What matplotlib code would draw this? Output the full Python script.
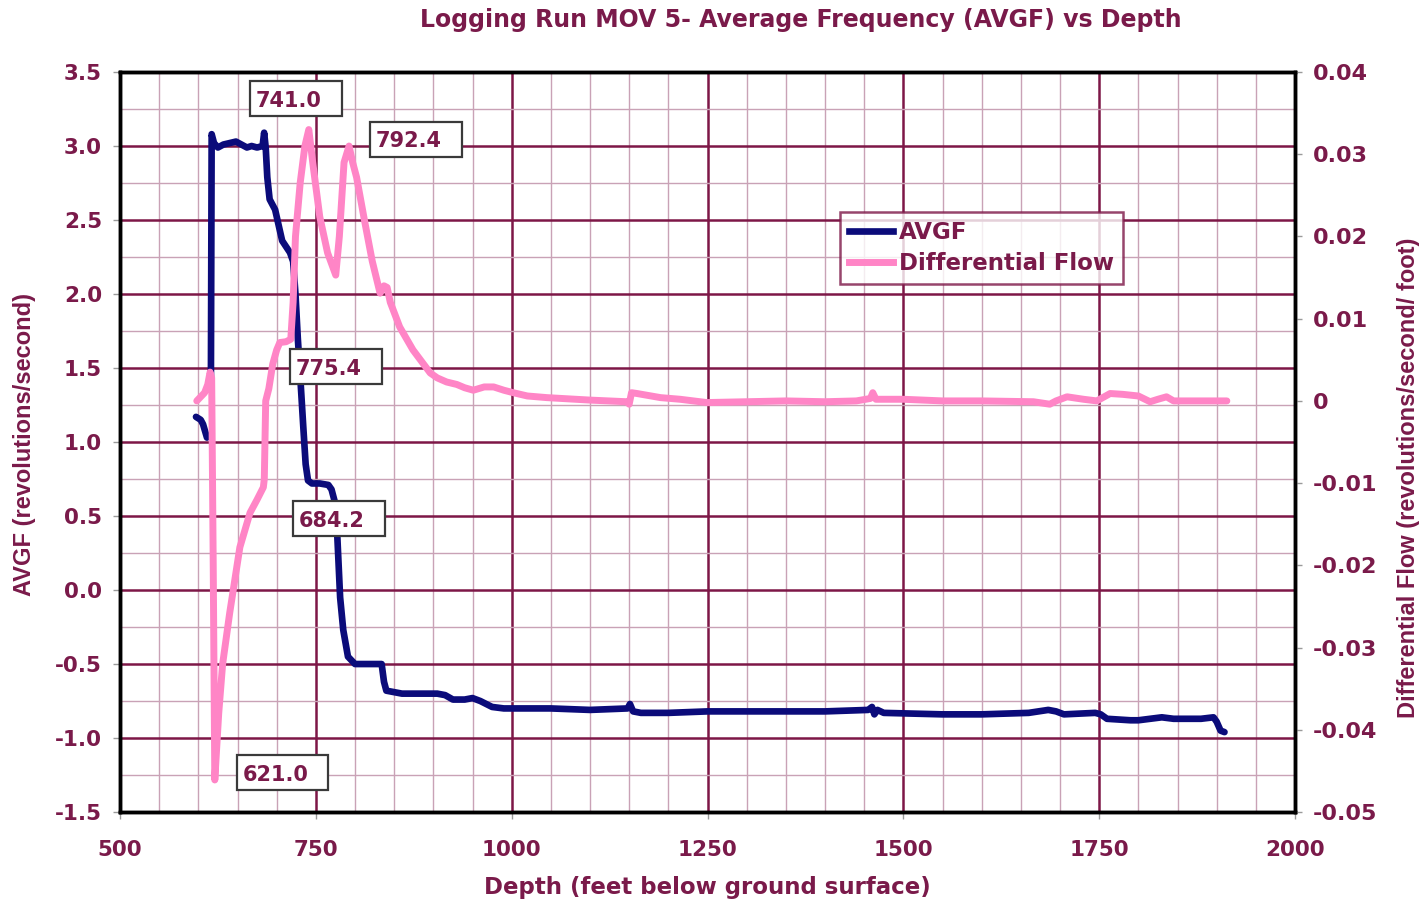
import numpy as np
import matplotlib
matplotlib.use("Agg")
import matplotlib.pyplot as plt
from matplotlib.lines import Line2D
from matplotlib.patches import Rectangle
from matplotlib.ticker import FixedLocator, MultipleLocator, FixedFormatter

# AVGF log (depth in ft, revolutions/second); NaN marks a gap in the record
avgf_depth = [597, 603, 606, 611, np.nan, 616, 617, 620, 625, 632, 640, 648, 655,
              662, 668, 675, 682, 684, 686, 688, 691, 698, 707, 717, 721, 724, 727,
              730, 734, 737, 740, 745, 755, 766, 770, 774, 777, 781, 785, 791, 800,
              815, 834, 837, 840, 850, 860, 880, 905, 915, 925, 940, 950, 960, 975,
              990, 1050, 1100, 1148, 1151, 1155, 1165, 1200, 1250, 1300, 1350, 1400,
              1455, 1460, 1463, 1467, 1475, 1550, 1600, 1660, 1685, 1695, 1705, 1745,
              1752, 1760, 1790, 1800, 1815, 1830, 1845, 1880, 1896, 1900, 1905, 1910]
avgf_value = [1.17, 1.15, 1.12, 1.03, np.nan, 1.35, 3.08, 3.02, 2.99, 3.01, 3.02, 3.03,
              3.01, 2.99, 3.00, 2.99, 3.00, 3.09, 2.99, 2.79, 2.64, 2.57, 2.36, 2.28,
              2.22, 2.00, 1.70, 1.45, 1.10, 0.85, 0.74, 0.72, 0.72, 0.71, 0.68, 0.60,
              0.41, -0.05, -0.27, -0.45, -0.50, -0.50, -0.50, -0.62, -0.68, -0.69,
              -0.70, -0.70, -0.70, -0.71, -0.74, -0.74, -0.73, -0.75, -0.79, -0.80,
              -0.80, -0.81, -0.80, -0.77, -0.82, -0.83, -0.83, -0.82, -0.82, -0.82,
              -0.82, -0.81, -0.79, -0.84, -0.81, -0.83, -0.84, -0.84, -0.83, -0.81,
              -0.82, -0.84, -0.83, -0.84, -0.87, -0.88, -0.88, -0.87, -0.86, -0.87,
              -0.87, -0.86, -0.89, -0.95, -0.96]

# Differential flow (revolutions/second/foot)
flow_depth = [598, 603, 608, 612, 615, 617, 619, 621.0, 626, 631, 640, 653, 666, 675,
              683, 684.2, 686, 690, 695, 700, 704, 712, 718, 721, 724, 730, 736, 741.0,
              746, 755, 765, 775.4, 780, 786, 792.4, 797, 802, 812, 822, 832, 837, 841,
              845, 857, 874, 896, 905, 917, 930, 940, 951, 965, 977, 990, 1002, 1020,
              1045, 1100, 1147, 1150, 1153, 1160, 1190, 1215, 1249, 1300, 1350, 1400,
              1440, 1458, 1461, 1465, 1500, 1550, 1600, 1666, 1687, 1695, 1709, 1730,
              1747, 1764, 1780, 1800, 1815, 1825, 1836, 1845, 1857, 1913]
flow_value = [0.0000, 0.0005, 0.0010, 0.0020, 0.0035, 0.0028, -0.0200, -0.0461, -0.0380,
              -0.0320, -0.0258, -0.0178, -0.0136, -0.0120, -0.0105, -0.0095, 0.0000,
              0.0015, 0.0045, 0.0062, 0.0071, 0.0072, 0.0075, 0.0120, 0.0200, 0.0265,
              0.0310, 0.0330, 0.0290, 0.0224, 0.0180, 0.0153, 0.0200, 0.0290, 0.0310,
              0.0290, 0.0272, 0.0220, 0.0170, 0.0131, 0.0140, 0.0138, 0.0120, 0.0090,
              0.0062, 0.0034, 0.0028, 0.0023, 0.0020, 0.0016, 0.0013, 0.0017, 0.0017,
              0.0013, 0.0010, 0.0006, 0.0004, 0.0001, -0.0001, -0.0004, 0.0010, 0.0009,
              0.0004, 0.0002, -0.0002, -0.0001, 0.0000, -0.0001, 0.0000, 0.0003, 0.0010,
              0.0002, 0.0002, 0.0000, 0.0000, -0.0001, -0.0004, 0.0000, 0.0005, 0.0002,
              0.0000, 0.0009, 0.0008, 0.0006, -0.0001, 0.0002, 0.0005, 0.0000, 0.0000,
              0.0000]

# Callout labels: text, left edge of the box (depth), box centre on the AVGF scale
callout_text = ["741.0", "792.4", "775.4", "684.2", "621.0"]
callout_depth = [666, 819, 717, 721, 649]
callout_avgf = [3.32, 3.045, 1.507, 0.483, -1.233]

x_ticks = [500, 750, 1000, 1250, 1500, 1750, 2000]
left_ticks = [-1.5, -1.0, -0.5, 0.0, 0.5, 1.0, 1.5, 2.0, 2.5, 3.0, 3.5]
right_ticks = [-0.05, -0.04, -0.03, -0.02, -0.01, 0.0, 0.01, 0.02, 0.03, 0.04]
right_labels = ["-0.05", "-0.04", "-0.03", "-0.02", "-0.01", "0", "0.01", "0.02",
                "0.03", "0.04"]

MAROON = "#7a1a4a"
GRID_MAJOR = "#7d1747"
GRID_MINOR = "#c9a2b6"
NAVY = "#0b0b7a"
PINK = "#ff85c6"
WIDE = "DejaVu Sans"
NARROW = "Liberation Sans"

fig = plt.figure(figsize=(14.27, 9.07), dpi=100)
ax = fig.add_axes([0.0841, 0.1047, 0.8234, 0.8159])
ax2 = ax.twinx()

LEFT_LIM = (-1.5, 3.5)
RIGHT_LIM = (-0.05, 0.04)
ax.set_xlim(500, 2000)
ax.set_ylim(*LEFT_LIM)
ax2.set_ylim(*RIGHT_LIM)

ax.xaxis.set_major_locator(FixedLocator(x_ticks))
ax.xaxis.set_minor_locator(MultipleLocator(50))
ax.yaxis.set_major_locator(FixedLocator(left_ticks))
ax.yaxis.set_minor_locator(MultipleLocator(0.25))
ax.set_xticklabels([str(v) for v in x_ticks])
ax.set_yticklabels([f"{v:.1f}" for v in left_ticks])
ax2.yaxis.set_major_locator(FixedLocator(right_ticks))
ax2.yaxis.set_major_formatter(FixedFormatter(right_labels))

ax.grid(which="major", color=GRID_MAJOR, lw=1.8)
ax.grid(which="minor", color=GRID_MINOR, lw=1.0)
ax.set_axisbelow(True)

for a in (ax, ax2):
    a.tick_params(which="major", length=5, width=1, color="#9a9a9a",
                  labelcolor=MAROON, labelsize=15.5)
    a.tick_params(which="minor", length=0)
    for lab in a.get_xticklabels() + a.get_yticklabels():
        lab.set_fontfamily(WIDE)
        lab.set_fontweight("bold")
    for s in a.spines.values():
        s.set_color("black")
        s.set_linewidth(2.5)
ax.tick_params(axis="x", pad=15)
ax.tick_params(axis="y", pad=8)
ax2.tick_params(axis="y", pad=8)
for lab in ax2.get_yticklabels():
    lab.set_fontsize(16)

ax.plot(avgf_depth, avgf_value, color=NAVY, lw=4.8, solid_joinstyle="round",
        solid_capstyle="round")
ax2.plot(flow_depth, flow_value, color=PINK, lw=5.0, solid_joinstyle="round",
         solid_capstyle="round")


def to_right(v):
    lo, hi = LEFT_LIM
    return RIGHT_LIM[0] + (v - lo) / (hi - lo) * (RIGHT_LIM[1] - RIGHT_LIM[0])


BOX_W = 117.0                                         # depth units
BOX_H = (RIGHT_LIM[1] - RIGHT_LIM[0]) * 35 / 740.0    # right-axis units
for txt, xd, yv in zip(callout_text, callout_depth, callout_avgf):
    yc = to_right(yv)
    ax2.add_patch(Rectangle((xd, yc - BOX_H / 2), BOX_W, BOX_H, facecolor="white",
                            edgecolor="#3a3a3a", lw=1.6, zorder=6))
    ax2.text(xd + 7.5, yc, txt, ha="left", va="center_baseline", fontsize=15,
             fontfamily=WIDE, fontweight="bold", color=MAROON, zorder=7)

handles = [Line2D([], [], color=NAVY, lw=4.8), Line2D([], [], color=PINK, lw=5.0)]
leg = ax2.legend(handles, ["AVGF", "Differential Flow"], loc="upper left",
                 bbox_to_anchor=(0.613, 0.811), frameon=True, fancybox=False,
                 handlelength=1.9, handletextpad=0.25, borderpad=0.4,
                 labelspacing=0.35, borderaxespad=0,
                 prop=dict(family=WIDE, weight="bold", size=16.5))
leg.get_frame().set_edgecolor(GRID_MAJOR)
leg.get_frame().set_linewidth(1.8)
for t in leg.get_texts():
    t.set_color(MAROON)
leg.set_zorder(10)

fig.text(0.5615, 0.978, "Logging Run MOV 5- Average Frequency (AVGF) vs Depth",
         ha="center", va="center", fontsize=17, fontfamily=WIDE, fontweight="bold",
         color=MAROON)
ax.set_xlabel("Depth (feet below ground surface)", fontsize=16.5, fontfamily=WIDE,
              fontweight="bold", color=MAROON, labelpad=12)
ax.set_ylabel("AVGF (revolutions/second)", fontsize=17, fontfamily=NARROW,
              fontweight="bold", color=MAROON)
ax.yaxis.set_label_coords(-0.0715, 0.496)
ax2.set_ylabel("Differential Flow (revolutions/second/ foot)", fontsize=17,
               fontfamily=NARROW, fontweight="bold", color=MAROON)
ax2.yaxis.set_label_coords(1.087, 0.451)

fig.savefig("out.png", dpi=100, facecolor="white")
